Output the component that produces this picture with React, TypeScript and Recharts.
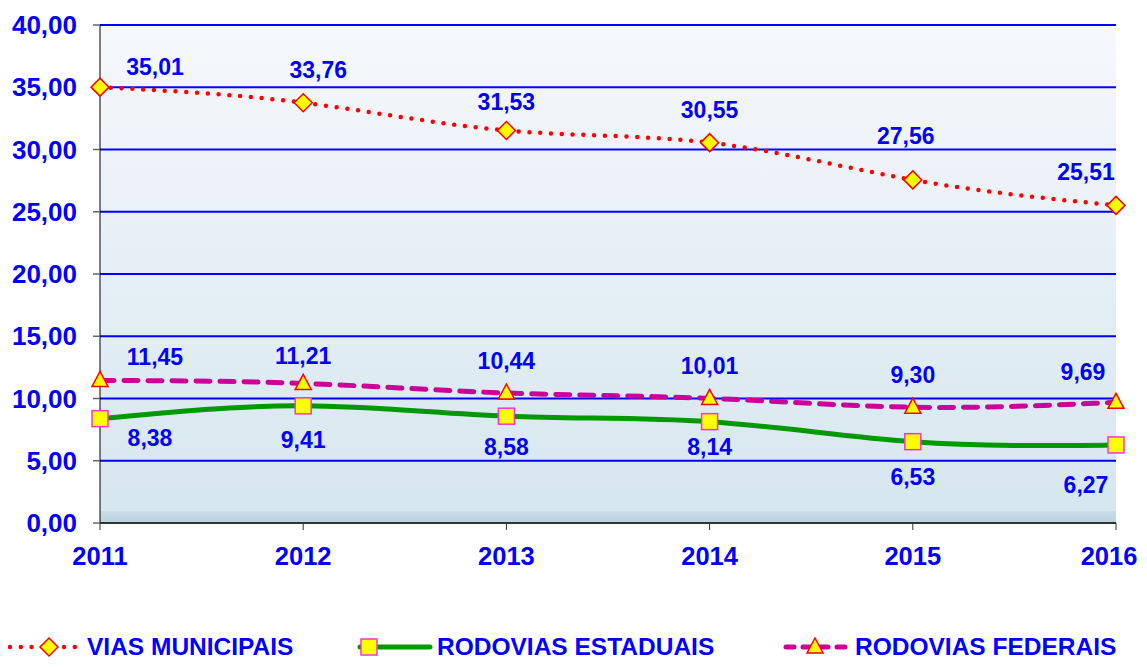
import { LineChart, Line, XAxis, YAxis, CartesianGrid, Legend, LabelList } from "recharts";

const years = ["2011", "2012", "2013", "2014", "2015", "2016"];
const viasMunicipais = [35.01, 33.76, 31.53, 30.55, 27.56, 25.51];
const rodoviasEstaduais = [8.38, 9.41, 8.58, 8.14, 6.53, 6.27];
const rodoviasFederais = [11.45, 11.21, 10.44, 10.01, 9.3, 9.69];
const yTicks = [0, 5, 10, 15, 20, 25, 30, 35, 40];

const data = years.map((y, i) => ({
  ano: y,
  mun: viasMunicipais[i],
  est: rodoviasEstaduais[i],
  fed: rodoviasFederais[i],
}));

// label nudges, per point (dx, dy from the marker)
const munOff = [[55, -20], [15, -33], [0, -28], [0, -33], [-7, -44], [-30, -33]];
const fedOff = [[55, -23], [0, -27], [0, -32], [0, -32], [0, -32], [-33, -30]];
const estOff = [[50, 19], [0, 34], [0, 31], [0, 25], [0, 35], [-30, 40]];

const BLUE = "#0000ff";
const FONT = "Arial, 'Liberation Sans', sans-serif";
const fmt = (v: number) => v.toFixed(2).replace(".", ",");

if (typeof document !== "undefined") {
  document.documentElement.style.overflow = "hidden";
  document.body.style.overflow = "hidden";
}

const makeLabel = (off: number[][]) => (p: any) => {
  const { x, y, value, index } = p;
  const [dx, dy] = off[index] || [0, 0];
  return (
    <text x={x + dx} y={y + dy} textAnchor="middle" dominantBaseline="central"
      fill={BLUE} fontSize={23} fontWeight="bold" fontFamily={FONT}>
      {fmt(value)}
    </text>
  );
};

// last year label pulled in a little so it stays inside the frame
const XTick = ({ x, y, payload, index }: any) => (
  <text x={index === years.length - 1 ? x - 7 : x} y={y} dy="0.71em" textAnchor="middle"
    fill={BLUE} fontSize={25.5} fontWeight="bold" fontFamily={FONT}>
    {payload.value}
  </text>
);

const Diamond = ({ cx, cy }: any) => (
  <path d={`M${cx},${cy - 9} L${cx + 9},${cy} L${cx},${cy + 9} L${cx - 9},${cy} Z`}
    fill="#ffff00" stroke="#ff0000" strokeWidth={1.5} />
);
const Square = ({ cx, cy }: any) => (
  <rect x={cx - 8} y={cy - 8} width={16} height={16} fill="#ffff00" stroke="#ff33cc" strokeWidth={1.5} />
);
const Triangle = ({ cx, cy }: any) => (
  <path d={`M${cx},${cy - 9} L${cx + 8},${cy + 6} L${cx - 8},${cy + 6} Z`}
    fill="#ffff00" stroke="#ff0000" strokeWidth={1.5} />
);

function LegendBox() {
  const items = [
    { name: "VIAS MUNICIPAIS", kind: "mun", left: 6, textLeft: 87 },
    { name: "RODOVIAS ESTADUAIS", kind: "est", left: 356, textLeft: 437 },
    { name: "RODOVIAS FEDERAIS", kind: "fed", left: 783, textLeft: 855 },
  ];
  const top = 62;
  return (
    <div style={{ height: 94, width: 1147, position: "relative" }}>
      {items.map((it) => (
        <div key={it.kind}>
          <svg width={80} height={24} style={{ position: "absolute", left: it.left, top }}>
            {it.kind === "mun" && (
              <>
                <line x1={4} y1={12} x2={76} y2={12} stroke="#ff0000" strokeWidth={4.5} strokeDasharray="0 10.8" strokeLinecap="round" />
                <Diamond cx={43} cy={12} />
              </>
            )}
            {it.kind === "est" && (
              <>
                <line x1={4} y1={12} x2={74} y2={12} stroke="#009900" strokeWidth={5} strokeLinecap="round" />
                <Square cx={13} cy={12} />
              </>
            )}
            {it.kind === "fed" && (
              <>
                <line x1={3} y1={12} x2={66} y2={12} stroke="#cc0099" strokeWidth={5} strokeDasharray="8 9" strokeLinecap="round" />
                <Triangle cx={32} cy={12} />
              </>
            )}
          </svg>
          <span style={{ position: "absolute", left: it.textLeft, top, whiteSpace: "nowrap", color: BLUE, fontFamily: FONT, fontWeight: "bold", fontSize: 24.5, lineHeight: "24px" }}>
            {it.name}
          </span>
        </div>
      ))}
    </div>
  );
}

export default function App() {
  return (
    <div style={{ width: 1147, height: 667, margin: -8, overflow: "hidden" }}>
      <LineChart width={1147} height={667} data={data} margin={{ top: 25, right: 31, left: 8, bottom: 0 }}>
        <defs>
          <linearGradient id="bgGrad" x1="0" y1="0" x2="0" y2="1">
            <stop offset="0%" stopColor="#f6f8fc" />
            <stop offset="97.5%" stopColor="#d6e6ef" />
            <stop offset="97.6%" stopColor="#c9dde8" />
            <stop offset="100%" stopColor="#b9d0de" />
          </linearGradient>
        </defs>
        <CartesianGrid vertical={false} stroke={BLUE} strokeWidth={2} fill="url(#bgGrad)" fillOpacity={1} />
        <XAxis dataKey="ano" tick={<XTick />}
          axisLine={{ stroke: "#333", strokeWidth: 2 }} tickLine={{ stroke: "#333" }} tickSize={7}
          height={50} tickMargin={17} interval={0} />
        <YAxis domain={[0, 40]} ticks={yTicks} tickFormatter={fmt} width={92} interval={0}
          tick={{ fill: BLUE, fontSize: 26, fontWeight: "bold", fontFamily: FONT }}
          axisLine={{ stroke: "#000", strokeWidth: 1 }} tickLine={{ stroke: "#666", strokeWidth: 1.5 }} tickSize={7} tickMargin={16} />
        <Legend verticalAlign="bottom" content={() => <LegendBox />} wrapperStyle={{ left: 0, width: 1147 }} />
        <Line type="natural" dataKey="mun" name="VIAS MUNICIPAIS" stroke="#ff0000" strokeWidth={4.5}
          strokeDasharray="0 10.8" strokeLinecap="round" dot={<Diamond />} isAnimationActive={false}>
          <LabelList dataKey="mun" content={makeLabel(munOff)} />
        </Line>
        <Line type="natural" dataKey="est" name="RODOVIAS ESTADUAIS" stroke="#009900" strokeWidth={5}
          dot={<Square />} isAnimationActive={false}>
          <LabelList dataKey="est" content={makeLabel(estOff)} />
        </Line>
        <Line type="natural" dataKey="fed" name="RODOVIAS FEDERAIS" stroke="#cc0099" strokeWidth={5}
          strokeDasharray="14 10" strokeLinecap="round" dot={<Triangle />} isAnimationActive={false}>
          <LabelList dataKey="fed" content={makeLabel(fedOff)} />
        </Line>
      </LineChart>
    </div>
  );
}
